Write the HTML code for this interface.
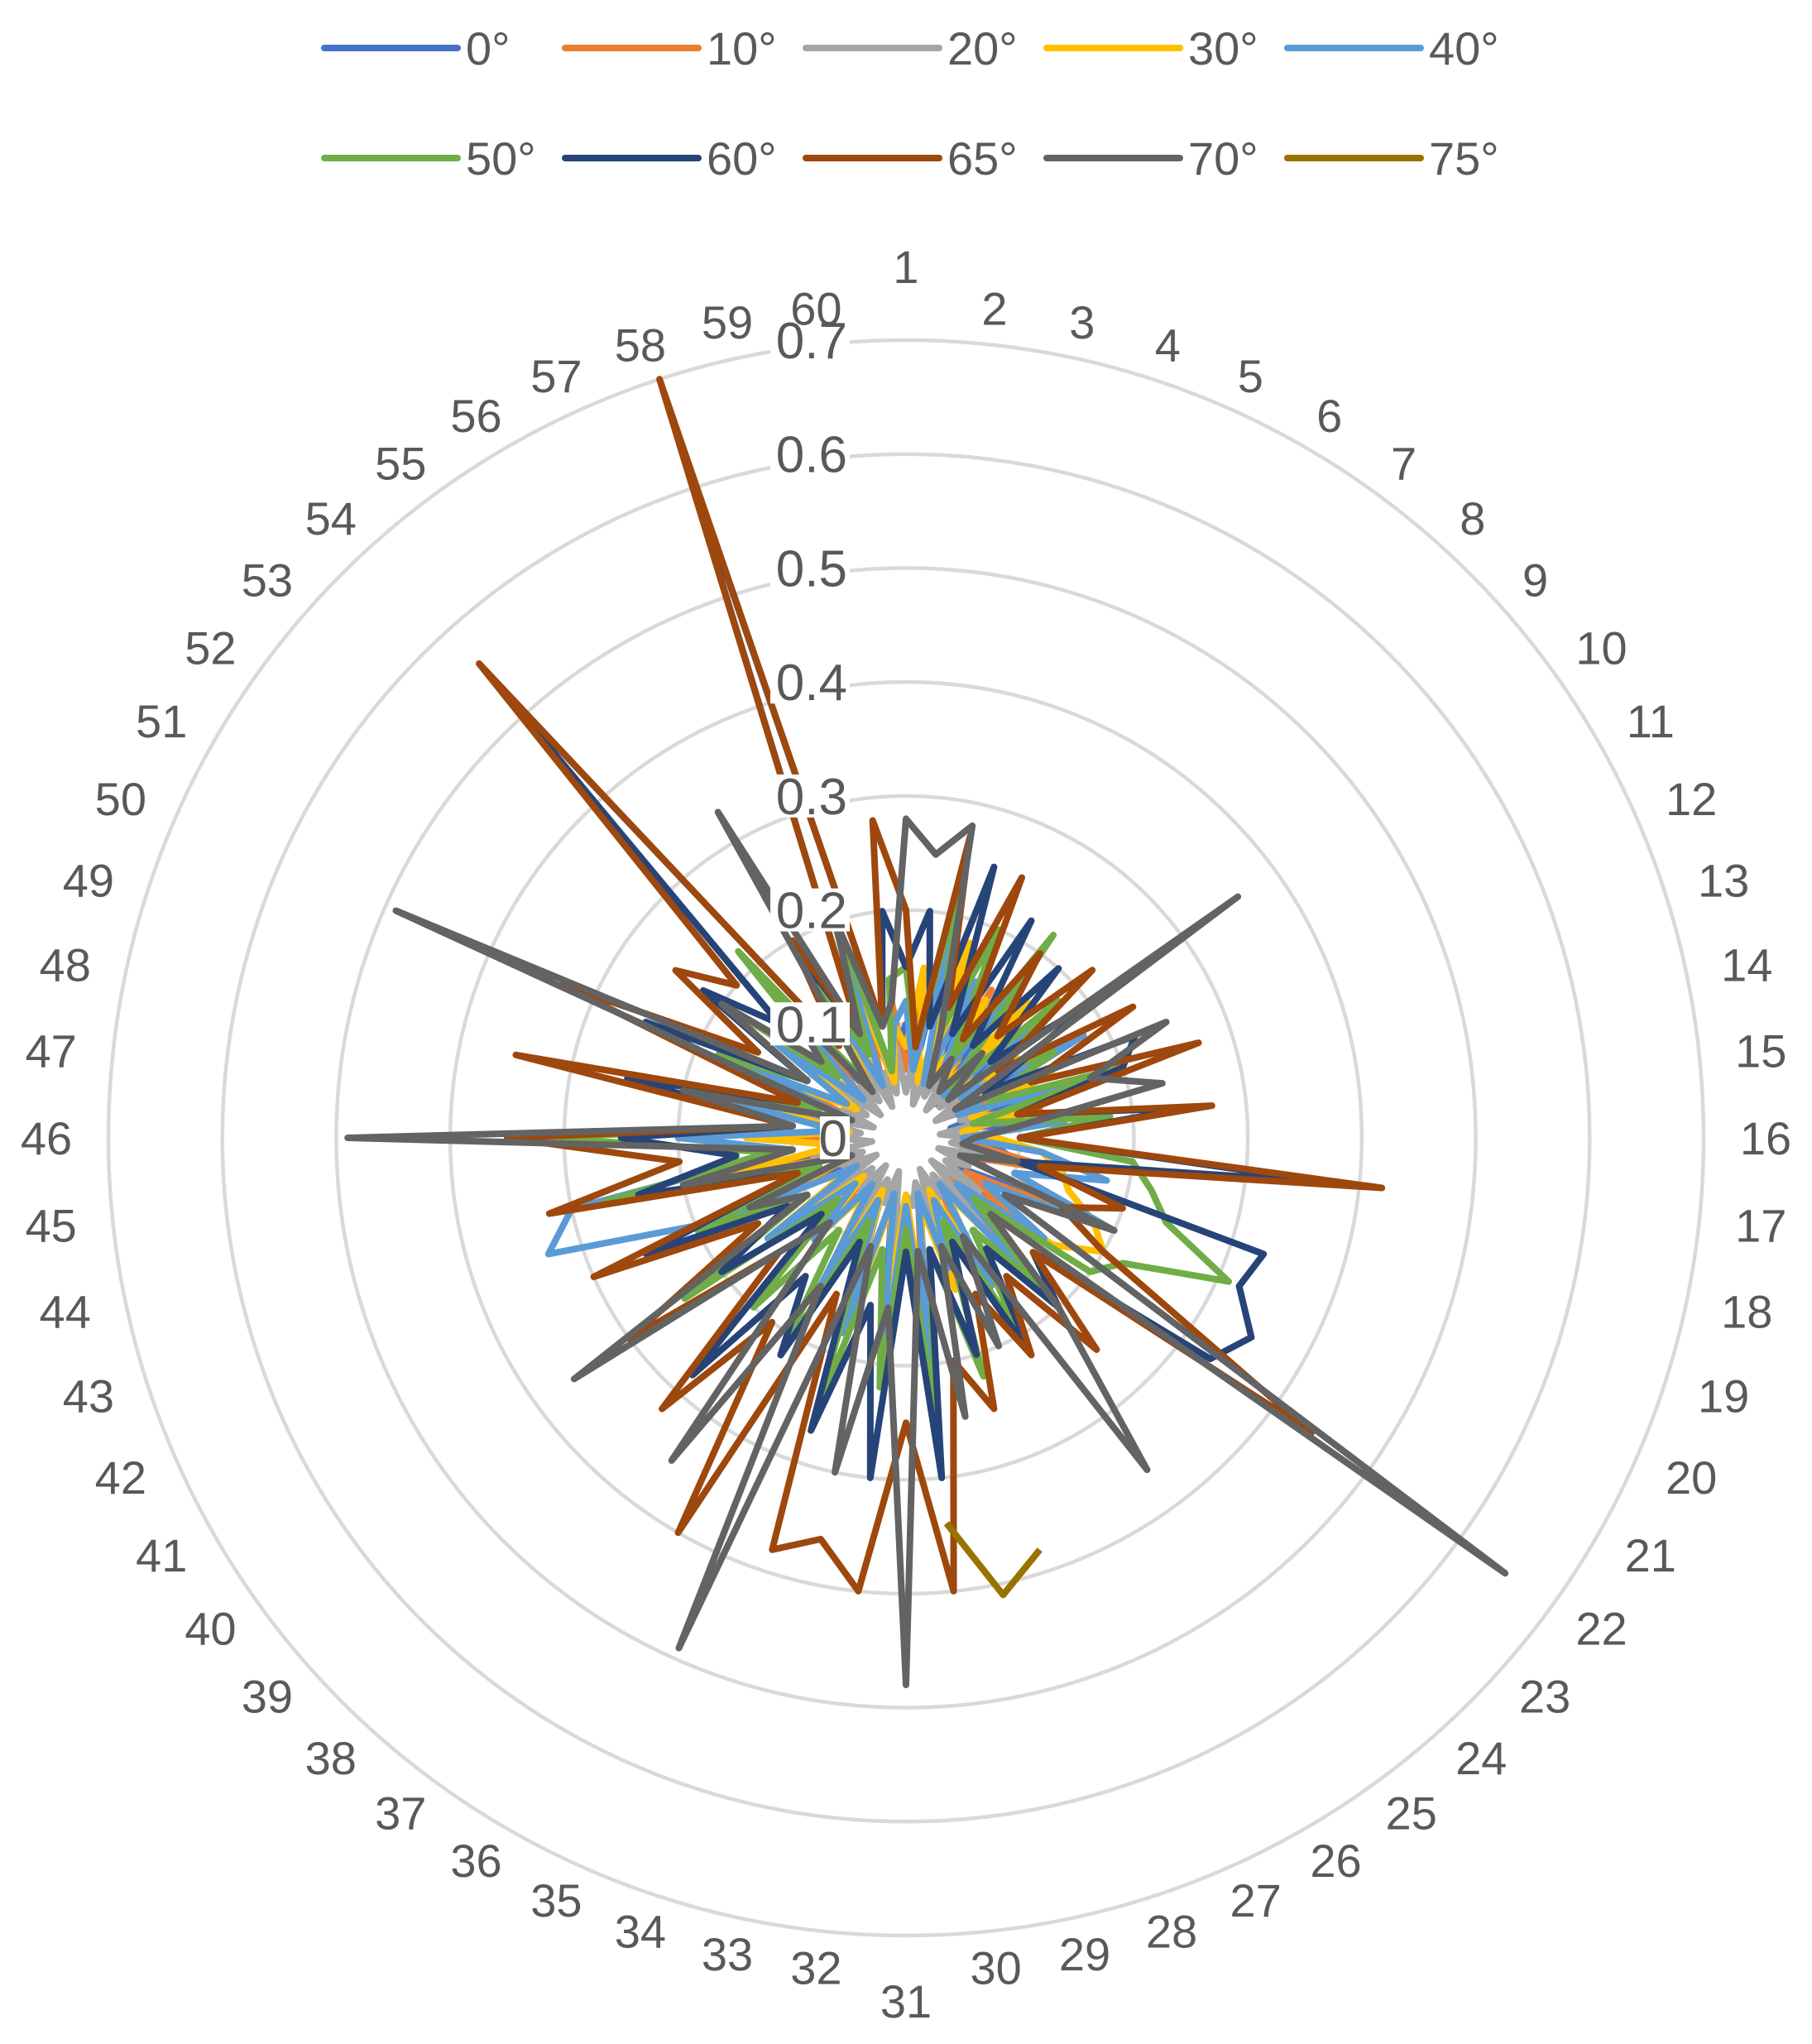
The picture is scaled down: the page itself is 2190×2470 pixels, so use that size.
<!DOCTYPE html>
<html><head><meta charset="utf-8"><style>
html,body{margin:0;padding:0;background:#fff;}
svg{display:block;font-family:"Liberation Sans",sans-serif;}
</style></head><body>
<svg id="chart" width="2190" height="2470" viewBox="0 0 2190 2470" xmlns="http://www.w3.org/2000/svg">
<g id="grid"></g>
<g id="series"></g>
<g id="ticks"></g>
<g id="cats"></g>
<g id="legend"></g>
</svg>
<script>
const seriesNames = ["0°","10°","20°","30°","40°","50°","60°","65°","70°","75°"];
const seriesColors = ["#4472c4","#ed7d31","#a5a5a5","#ffc000","#5b9bd5","#70ad47","#264478","#9e480e","#636363","#997300"];
const tickLabels = ["0","0.1","0.2","0.3","0.4","0.5","0.6","0.7"];
const tickValues = [0,0.1,0.2,0.3,0.4,0.5,0.6,0.7];
const s0 = [0.1,0.05,0.2,0.06,0.12,0.05,0.15,0.04,0.1,0.06,0.14,0.05,0.1,0.04,0.12,0.05,0.08,0.1,0.06,0.12,0.05,0.1,0.04,0.15,0.06,0.12,0.05,0.1,0.06,0.18,0.05,0.2,0.06,0.15,0.05,0.12,0.06,0.1,0.05,0.12,0.04,0.1,0.05,0.12,0.06,0.14,0.05,0.1,0.04,0.12,0.06,0.1,0.05,0.12,0.04,0.1,0.06,0.12,0.05,0.08];
const s1 = [0.06,0.12,0.05,0.1,0.04,0.15,0.06,0.1,0.05,0.12,0.04,0.1,0.06,0.12,0.05,0.08,0.06,0.14,0.05,0.18,0.06,0.12,0.05,0.15,0.04,0.1,0.06,0.12,0.05,0.14,0.06,0.1,0.05,0.16,0.06,0.12,0.05,0.1,0.04,0.12,0.06,0.1,0.05,0.14,0.06,0.1,0.05,0.12,0.04,0.1,0.06,0.14,0.05,0.1,0.06,0.16,0.05,0.1,0.06,0.12];
const s2 = [0.04,0.08,0.03,0.06,0.04,0.1,0.03,0.06,0.04,0.08,0.03,0.06,0.05,0.08,0.03,0.06,0.04,0.1,0.03,0.06,0.04,0.08,0.03,0.1,0.04,0.06,0.03,0.08,0.04,0.06,0.05,0.1,0.03,0.06,0.04,0.08,0.03,0.06,0.04,0.1,0.03,0.06,0.04,0.08,0.03,0.06,0.04,0.1,0.03,0.06,0.04,0.08,0.03,0.06,0.04,0.1,0.03,0.06,0.04,0.08];
const s3 = [0.08,0.15,0.05,0.18,0.06,0.14,0.05,0.16,0.06,0.12,0.05,0.14,0.06,0.1,0.05,0.08,0.12,0.14,0.15,0.18,0.2,0.16,0.08,0.15,0.06,0.12,0.05,0.14,0.06,0.16,0.05,0.15,0.06,0.18,0.05,0.14,0.06,0.12,0.05,0.15,0.06,0.12,0.05,0.16,0.06,0.14,0.05,0.12,0.06,0.14,0.05,0.12,0.06,0.15,0.05,0.12,0.06,0.14,0.05,0.1];
const s4 = [0.12,0.06,0.18,0.05,0.15,0.06,0.2,0.05,0.16,0.06,0.18,0.05,0.15,0.06,0.14,0.05,0.12,0.18,0.1,0.2,0.08,0.15,0.06,0.18,0.05,0.15,0.06,0.12,0.05,0.2,0.06,0.22,0.05,0.18,0.06,0.15,0.05,0.12,0.06,0.15,0.05,0.18,0.33,0.3,0.1,0.2,0.06,0.18,0.05,0.15,0.06,0.14,0.05,0.2,0.06,0.15,0.05,0.2,0.06,0.1];
const s5 = [0.15,0.08,0.22,0.1,0.2,0.08,0.22,0.06,0.18,0.1,0.15,0.08,0.2,0.06,0.18,0.1,0.2,0.22,0.24,0.31,0.22,0.2,0.08,0.18,0.1,0.2,0.08,0.22,0.1,0.25,0.08,0.22,0.1,0.25,0.08,0.22,0.1,0.2,0.08,0.24,0.1,0.2,0.08,0.27,0.12,0.32,0.1,0.2,0.08,0.18,0.1,0.2,0.08,0.22,0.06,0.18,0.08,0.22,0.06,0.14];
const s6 = [0.15,0.2,0.1,0.25,0.1,0.22,0.1,0.2,0.1,0.2,0.08,0.22,0.2,0.1,0.25,0.1,0.37,0.1,0.33,0.32,0.35,0.33,0.15,0.2,0.12,0.22,0.1,0.2,0.1,0.3,0.1,0.3,0.15,0.27,0.1,0.22,0.15,0.28,0.1,0.2,0.12,0.25,0.1,0.24,0.15,0.25,0.1,0.25,0.1,0.25,0.1,0.22,0.15,0.55,0.1,0.18,0.1,0.68,0.1,0.2];
const s7 = [0.2,0.08,0.27,0.12,0.25,0.1,0.2,0.12,0.22,0.1,0.23,0.12,0.27,0.1,0.27,0.1,0.42,0.12,0.2,0.15,0.2,0.44,0.15,0.25,0.15,0.22,0.15,0.25,0.2,0.4,0.25,0.4,0.36,0.38,0.15,0.4,0.2,0.32,0.15,0.3,0.15,0.3,0.1,0.32,0.2,0.35,0.1,0.35,0.1,0.33,0.15,0.25,0.2,0.56,0.1,0.2,0.1,0.7,0.1,0.28];
const s8 = [0.28,0.25,0.28,0.1,0.05,0.08,0.05,0.1,0.05,0.36,0.05,0.25,0.17,0.23,0.1,0.06,0.05,0.1,0.05,0.2,0.1,0.65,0.1,0.2,0.36,0.1,0.2,0.1,0.25,0.1,0.48,0.15,0.3,0.1,0.49,0.15,0.35,0.1,0.15,0.36,0.1,0.15,0.05,0.2,0.1,0.49,0.1,0.2,0.05,0.49,0.1,0.2,0.1,0.15,0.05,0.33,0.1,0.2,0.1,0.12];
const s9 = [null,null,null,null,null,null,null,null,null,null,null,null,null,null,null,null,null,null,null,null,null,null,null,null,null,null,null,0.38,0.41,0.34,null,null,null,null,null,null,null,null,null,null,null,null,null,null,null,null,null,null,null,null,null,null,null,null,null,null,null,null,null,null];
const seriesValues = [s0,s1,s2,s3,s4,s5,s6,s7,s8,s9];
const NCAT = 60;

const NS="http://www.w3.org/2000/svg";
const cx=1095, cy=1375, R=964, maxV=0.7;
function rScale(v){return v/maxV*R;}
function ang(i){return (i*6-90)*Math.PI/180;}
function px(i,v){return cx+rScale(v)*Math.cos(ang(i));}
function py(i,v){return cy+rScale(v)*Math.sin(ang(i));}
function mk(tag,parent){const e=document.createElementNS(NS,tag);parent.appendChild(e);return e;}

const grid=document.getElementById('grid');
tickValues.forEach((t,k)=>{
  if(t===0) return;
  const c=mk('circle',grid);
  
  
  c.setAttribute('cx',cx);c.setAttribute('cy',cy);c.setAttribute('r',rScale(t));
  c.setAttribute('fill','none');c.setAttribute('stroke','#d9d9d9');c.setAttribute('stroke-width','4.5');
});

const sg=document.getElementById('series');
seriesValues.forEach((vals,s)=>{
  let segs=[],cur=[];
  for(let i=0;i<NCAT;i++){
    if(vals[i]===null){if(cur.length)segs.push(cur);cur=[];continue;}
    cur.push(px(i,vals[i]).toFixed(1)+','+py(i,vals[i]).toFixed(1));
  }
  if(cur.length)segs.push(cur);
  const closed = vals.every(v=>v!==null);
  if(closed){
    const p=mk('polygon',sg);
    
    
    p.setAttribute('points',segs[0].join(' '));
    p.setAttribute('fill','none');p.setAttribute('stroke',seriesColors[s]);
    p.setAttribute('stroke-width','8');p.setAttribute('stroke-linejoin','round');
  } else {
    segs.forEach(sgm=>{
      const p=mk('polyline',sg);
      
      
      p.setAttribute('points',sgm.join(' '));
      p.setAttribute('fill','none');p.setAttribute('stroke',seriesColors[s]);
      p.setAttribute('stroke-width','8');p.setAttribute('stroke-linejoin','round');
    });
  }
});

const tg=document.getElementById('ticks');
tickValues.forEach((t,k)=>{
  const y=cy-rScale(t);
  const w=tickLabels[k].length*30+6;
  const r=mk('rect',tg);
  
  
  r.setAttribute('x',1027-w);r.setAttribute('y',y-26);r.setAttribute('width',w);r.setAttribute('height',52);r.setAttribute('fill','#fff');
  const tx=mk('text',tg);
  
  
  tx.setAttribute('x',1024);tx.setAttribute('y',y+22);tx.setAttribute('text-anchor','end');
  tx.setAttribute('font-size','62');tx.setAttribute('fill','#595959');
  tx.textContent=tickLabels[k];
});

const cats=document.getElementById('cats');
for(let i=0;i<NCAT;i++){
  const t=mk('text',cats);
  
  
  const a=ang(i);
  const lab=String(i+1);
  const w=lab.length*31;
  const Ra=1008;
  const sx=Math.sin(i*6*Math.PI/180);
  let x=cx+Ra*Math.cos(a)+Math.sign(Math.cos(a))*(w/2)*Math.abs(sx);
  let y=cy+Ra*Math.sin(a);
  if(i===0) y-=45;
  if(i===30) y+=35;
  t.setAttribute('x',x);t.setAttribute('y',y+20);
  t.setAttribute('text-anchor','middle');t.setAttribute('font-size','56');t.setAttribute('fill','#595959');
  t.textContent=lab;
}

const lg=document.getElementById('legend');
seriesNames.forEach((n,s)=>{
  const row=Math.floor(s/5), col=s%5;
  const x0=392+col*291, y0=58+row*133;
  const g=mk('g',lg);
  
  
  const l=mk('line',g);
  
  
  l.setAttribute('x1',x0);l.setAttribute('x2',x0+161);l.setAttribute('y1',y0);l.setAttribute('y2',y0);
  l.setAttribute('stroke',seriesColors[s]);l.setAttribute('stroke-width','8');l.setAttribute('stroke-linecap','round');
  const t=mk('text',g);
  
  
  t.setAttribute('x',x0+171);t.setAttribute('y',y0+20);t.setAttribute('font-size','56');t.setAttribute('fill','#595959');
  t.textContent=n;
});
</script>
</body></html>
